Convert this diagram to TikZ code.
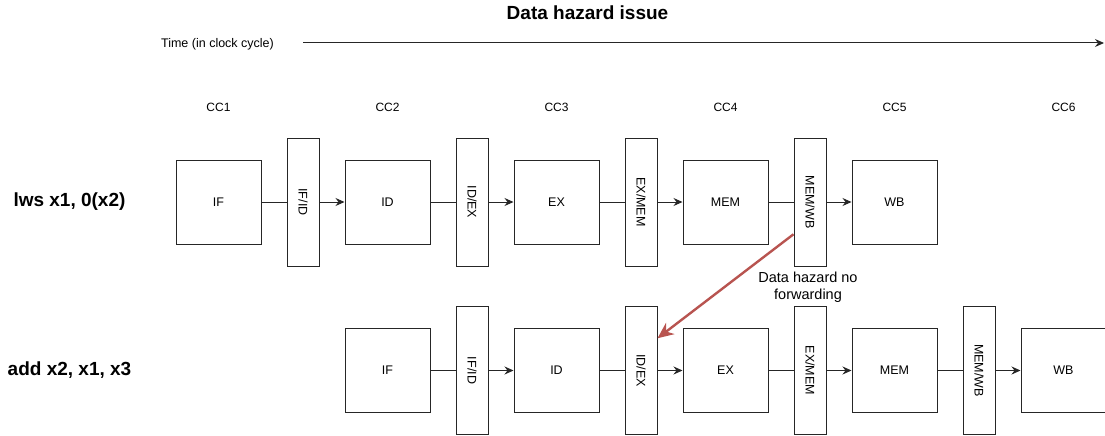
\documentclass[tikz,border=0pt]{standalone}
\usepackage{fontspec}
\setmainfont{Liberation Sans}
\usepackage{graphicx}
\usetikzlibrary{arrows.meta,calc}
\definecolor{hazred}{HTML}{B85450}
\definecolor{edge}{HTML}{262626}
\begin{document}
\begin{tikzpicture}[x=1pt,y=-1pt,
  stage/.style={draw=edge, line width=1pt, fill=white, minimum width=85pt, minimum height=84pt, inner sep=0pt, font=\fontsize{12.5}{15}\selectfont},
  preg/.style={draw=edge, line width=1pt, fill=white, minimum width=32pt, minimum height=128pt, inner sep=0pt, font=\fontsize{12.5}{15}\selectfont},
  cclabel/.style={font=\fontsize{12}{14}\selectfont, inner sep=0pt},
  rowlabel/.style={font=\fontsize{19}{22}\selectfont\bfseries, inner sep=0pt},
  plainline/.style={draw=edge, line width=1pt},
  arr/.style={draw=edge, line width=1pt, -{Stealth[length=9pt,width=8pt,inset=3pt]}},
  hazard/.style={draw=hazred, line width=2.4pt, -{Stealth[length=16pt,width=14pt,inset=5pt]}},
]
\useasboundingbox (0,0) rectangle (1105,436);

% title and time axis
\node[font=\fontsize{19}{22}\selectfont\bfseries, inner sep=0pt] (title) at (587.5,13) {Data hazard issue};
\node[font=\fontsize{12.5}{15}\selectfont, inner sep=0pt] (time) at (217.5,44) {Time (in clock cycle)};
\coordinate (tA) at (303,43);
\coordinate (tB) at (1104,43);
\draw[arr] (tA) -- (tB);

% clock cycles
\node[cclabel] (cc1) at (218.5,107) {CC1};
\node[cclabel] (cc2) at (387.5,107) {CC2};
\node[cclabel] (cc3) at (556.5,107) {CC3};
\node[cclabel] (cc4) at (725.5,107) {CC4};
\node[cclabel] (cc5) at (894.5,107) {CC5};
\node[cclabel] (cc6) at (1063.5,107) {CC6};

% row labels
\node[rowlabel] (lw) at (69.5,202) {lws x1, 0(x2)};
\node[rowlabel] (ad) at (69.5,370.5) {add x2, x1, x3};

% row 1
\node[stage] (if1) at (218.5,202) {IF};
\node[preg] (ifid1) at (303,202) {\rotatebox{-90}{IF/ID}};
\node[stage] (id1) at (387.5,202) {ID};
\node[preg] (idex1) at (472,202) {\rotatebox{-90}{ID/EX}};
\node[stage] (ex1) at (556.5,202) {EX};
\node[preg] (exmem1) at (641,202) {\rotatebox{-90}{EX/MEM}};
\node[stage] (mem1) at (725.5,202) {MEM};
\node[preg] (memwb1) at (810,202) {\rotatebox{-90}{MEM/WB}};
\node[stage] (wb1) at (894.5,202) {WB};

\draw[plainline] (if1) -- (ifid1);
\draw[arr] (ifid1) -- (id1);
\draw[plainline] (id1) -- (idex1);
\draw[arr] (idex1) -- (ex1);
\draw[plainline] (ex1) -- (exmem1);
\draw[arr] (exmem1) -- (mem1);
\draw[plainline] (mem1) -- (memwb1);
\draw[arr] (memwb1) -- (wb1);

% row 2
\node[stage] (if2) at (387.5,370.5) {IF};
\node[preg] (ifid2) at (472,370.5) {\rotatebox{-90}{IF/ID}};
\node[stage] (id2) at (556.5,370.5) {ID};
\node[preg] (idex2) at (641,370.5) {\rotatebox{-90}{ID/EX}};
\node[stage] (ex2) at (725.5,370.5) {EX};
\node[preg] (exmem2) at (810,370.5) {\rotatebox{-90}{EX/MEM}};
\node[stage] (mem2) at (894.5,370.5) {MEM};
\node[preg] (memwb2) at (979,370.5) {\rotatebox{-90}{MEM/WB}};
\node[stage] (wb2) at (1063.5,370.5) {WB};

\draw[plainline] (if2) -- (ifid2);
\draw[arr] (ifid2) -- (id2);
\draw[plainline] (id2) -- (idex2);
\draw[arr] (idex2) -- (ex2);
\draw[plainline] (ex2) -- (exmem2);
\draw[arr] (exmem2) -- (mem2);
\draw[plainline] (mem2) -- (memwb2);
\draw[arr] (memwb2) -- (wb2);

% hazard
\coordinate (hzA) at ($(memwb1.south west)!0.25!(memwb1.north west)$);
\coordinate (hzB) at ($(idex2.north east)!0.25!(idex2.south east)$);
\draw[hazard] (hzA) -- (hzB);
\node[font=\fontsize{14.5}{16.5}\selectfont, align=center, inner sep=0pt] (hzlabel) at (808,287) {Data hazard no\\forwarding};
\end{tikzpicture}
\end{document}
